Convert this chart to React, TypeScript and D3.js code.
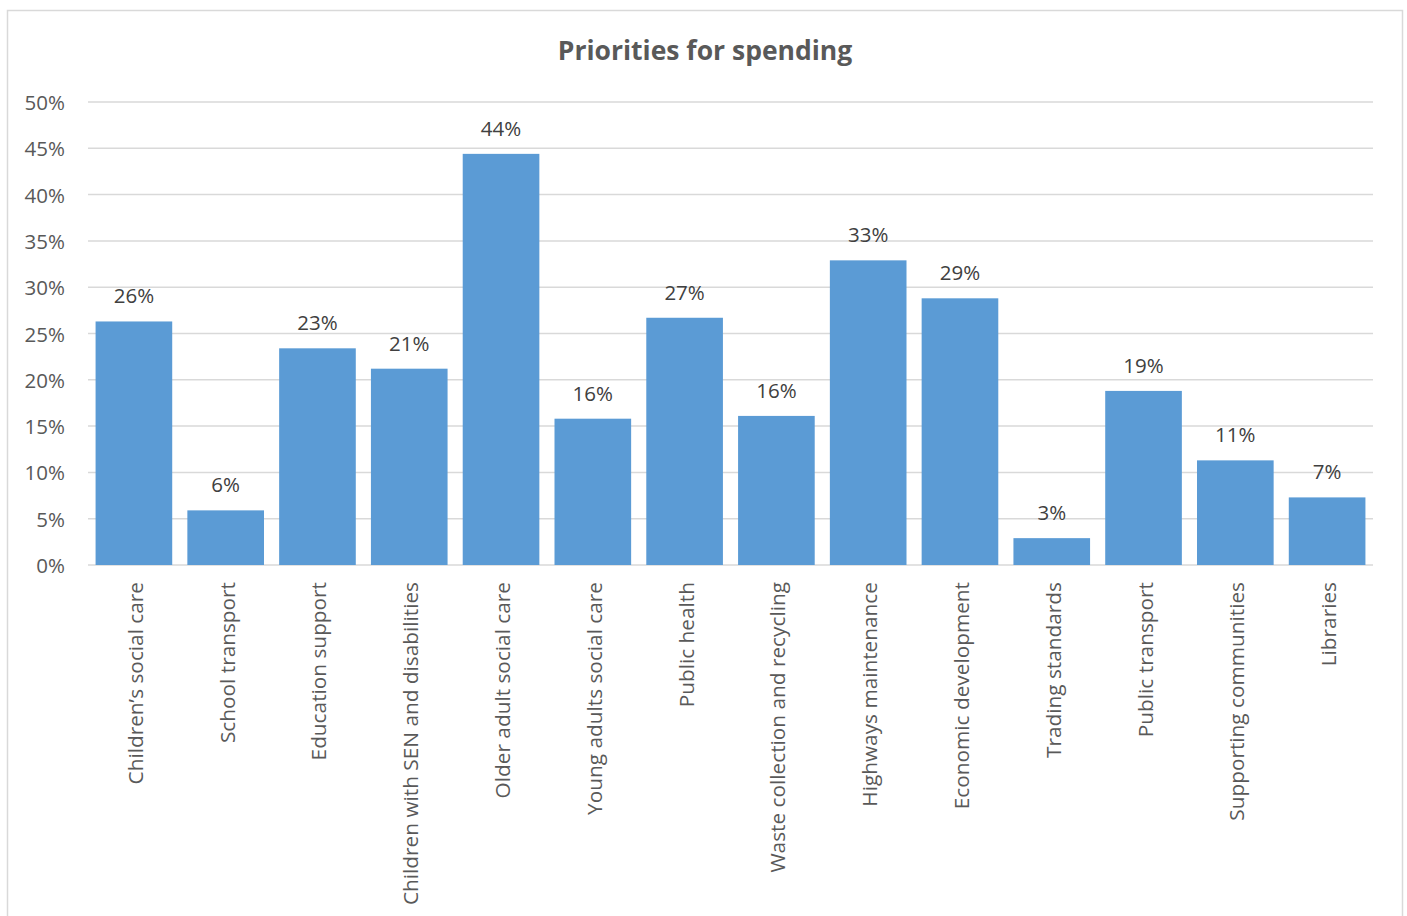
import React from "react";
import * as d3 from "d3";

const categories = [
  "Children’s social care",
  "School transport",
  "Education support",
  "Children with SEN and disabilities",
  "Older adult social care",
  "Young adults social care",
  "Public health",
  "Waste collection and recycling",
  "Highways maintenance",
  "Economic development",
  "Trading standards",
  "Public transport",
  "Supporting communities",
  "Libraries",
];
const values = [26.3, 5.9, 23.4, 21.2, 44.4, 15.8, 26.7, 16.1, 32.9, 28.8, 2.9, 18.8, 11.3, 7.3];
const yTicks = [0, 5, 10, 15, 20, 25, 30, 35, 40, 45, 50];

const W = 1407;
const H = 916;
const FONT = "'Open Sans', 'DejaVu Sans', sans-serif";

export default function App() {
  const x = d3.scaleBand<string>().domain(categories).range([88, 1373]).paddingInner(0.165).paddingOuter(0.0825);
  const y = d3.scaleLinear().domain([0, 50]).range([565, 102]);
  return (
    <svg width={W} height={H} style={{ position: "absolute", left: 0, top: 0, background: "#fff" }}>
      <rect x={7.5} y={10.5} width={1395} height={920} fill="#fff" stroke="#d9d9d9" strokeWidth={1.5} />
      <text x={705} y={60} textAnchor="middle" fontFamily={FONT} fontWeight="bold" fontSize={26.5} fill="#595959">
        Priorities for spending
      </text>
      {yTicks.map((t) => (
        <g key={t}>
          <line x1={88} x2={1373} y1={y(t)} y2={y(t)} stroke="#d9d9d9" strokeWidth={1.5} />
          <text x={65} y={y(t)} textAnchor="end" dominantBaseline="central" fontFamily={FONT} fontSize={20.5} fill="#595959">
            {t}%
          </text>
        </g>
      ))}
      {categories.map((c, i) => {
        const bx = x(c)!;
        const cx = bx + x.bandwidth() / 2;
        return (
          <g key={c}>
            <rect x={bx} y={y(values[i])} width={x.bandwidth()} height={y(0) - y(values[i])} fill="#5b9bd5" />
            <text x={cx} y={y(values[i]) - 26} textAnchor="middle" dominantBaseline="central" fontFamily={FONT} fontSize={20.5} fill="#404040">
              {Math.round(values[i])}%
            </text>
            <text
              transform={`translate(${cx + 1},${582}) rotate(-90)`}
              textAnchor="end"
              dominantBaseline="central"
              fontFamily={FONT}
              fontSize={20.8}
              fill="#595959"
            >
              {c}
            </text>
          </g>
        );
      })}
    </svg>
  );
}
